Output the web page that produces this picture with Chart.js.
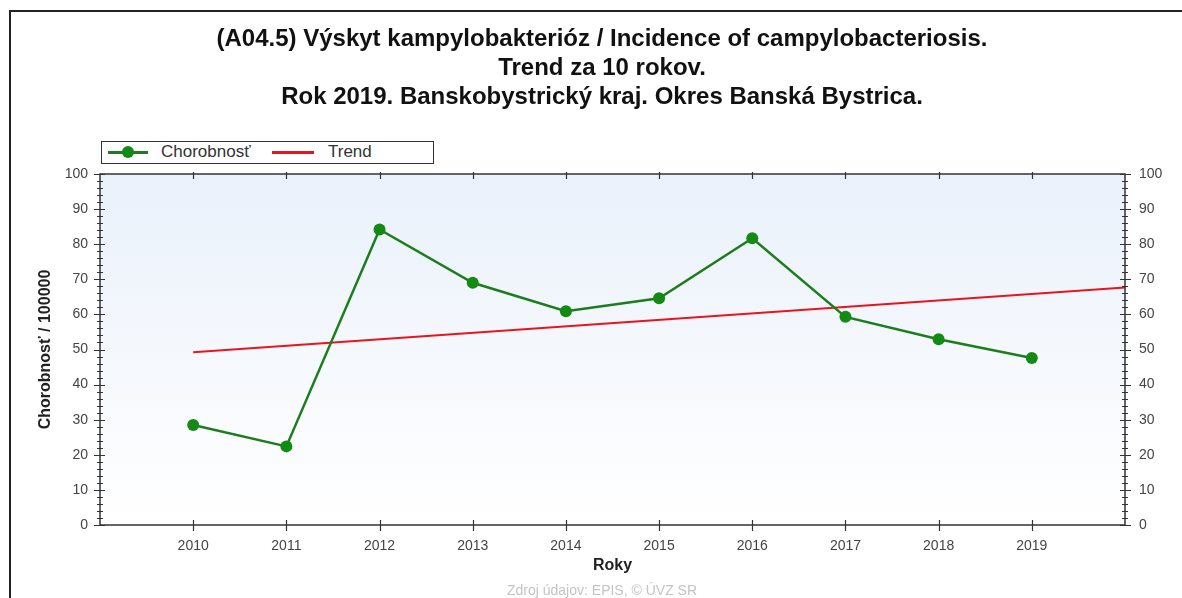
<!DOCTYPE html>
<html>
<head>
<meta charset="utf-8">
<script src="https://cdn.jsdelivr.net/npm/chart.js@4"></script>
<style>
  html, body { margin: 0; padding: 0; background: #fff; overflow: hidden; }
  #wrap { position: relative; width: 1182px; height: 598px; }
  #frame { position: absolute; left: 9px; top: 10px; width: 1200px; height: 620px;
           border-left: 2px solid #222; border-top: 2px solid #222; }
  #legend { position: absolute; left: 101px; top: 141px; width: 331px; height: 21px;
            border: 1px solid #333; background: #fff;
            font: 17px "Liberation Sans", Arial, sans-serif; color: #333; }
  #legend span { position: absolute; top: 0px; }
  #legend i { position: absolute; display: block; height: 3px; }
  #legend b { position: absolute; display: block; width: 12px; height: 12px; border-radius: 50%; background: #138a13; }
  #foot { position: absolute; left: 0; width: 1204px; top: 582px; text-align: center;
          font: 14px "Liberation Sans", Arial, sans-serif; color: #c4c4c4; }
  canvas { position: absolute; left: 0; top: 0; }
</style>
</head>
<body>
<div id="wrap">
  <div id="frame"></div>
  <canvas id="chart" width="1182" height="598"></canvas>
  <div id="legend">
    <i style="left:6px;top:9px;width:40px;background:#1d7d1d"></i>
    <b style="left:20px;top:4px"></b>
    <span style="left:59px">Chorobnosť</span>
    <i style="left:170px;top:9px;width:42px;background:#e8141e"></i>
    <span style="left:226px">Trend</span>
  </div>
  <div id="foot">Zdroj údajov: EPIS, © ÚVZ SR</div>
</div>
<script>
// Roky a hodnoty chorobnosti odčítané z grafu
const years = [2010, 2011, 2012, 2013, 2014, 2015, 2016, 2017, 2018, 2019];
const incidence = [28.5, 22.4, 84.2, 69.0, 60.9, 64.6, 81.7, 59.3, 52.9, 47.6];
// Trendová čiara – začiatok a koniec
const trendYears = [2010, 2020];
const trendValues = [49.2, 67.7];
const yTicks = [0, 10, 20, 30, 40, 50, 60, 70, 80, 90, 100];

const fontFamily = '"Liberation Sans", Arial, sans-serif';

// pozadie grafu + rámik a značky osí
const plotFrame = {
    id: 'plotFrame',
    beforeDatasetsDraw(chart) {
        const { ctx, chartArea: a } = chart;
        ctx.save();
        const g = ctx.createLinearGradient(0, a.top, 0, a.bottom);
        g.addColorStop(0, '#eaf1fb');
        g.addColorStop(1, '#ffffff');
        ctx.fillStyle = g;
        ctx.fillRect(a.left, a.top, a.right - a.left, a.bottom - a.top);
        ctx.restore();
    },
    afterDatasetsDraw(chart) {
        const { ctx, chartArea: a, scales } = chart;
        const x = scales.x, y = scales.y;
        ctx.save();
        ctx.strokeStyle = '#333';
        ctx.lineWidth = 1.5;
        ctx.strokeRect(a.left, a.top, a.right - a.left, a.bottom - a.top);
        ctx.lineWidth = 1.2;
        ctx.beginPath();
        // y značky – hlavné po 10, vedľajšie po 2
        for (let v = 0; v <= 100; v += 2) {
            const py = Math.round(y.getPixelForValue(v)) + 0.5;
            const major = v % 10 === 0;
            const out = major ? 6 : 3, inn = major ? 5 : 3;
            ctx.moveTo(a.left - out, py); ctx.lineTo(a.left + inn, py);
            ctx.moveTo(a.right - inn, py); ctx.lineTo(a.right + out, py);
        }
        // x značky
        years.forEach(yr => {
            const px = Math.round(x.getPixelForValue(yr)) + 0.5;
            ctx.moveTo(px, a.bottom - 5); ctx.lineTo(px, a.bottom + 6);
            ctx.moveTo(px, a.top - 2); ctx.lineTo(px, a.top + 5);
        });
        ctx.stroke();
        ctx.restore();
    }
};

new Chart(document.getElementById('chart'), {
    type: 'line',
    plugins: [plotFrame],
    data: {
        datasets: [
            {
                label: 'Chorobnosť',
                data: years.map((yr, i) => ({ x: yr, y: incidence[i] })),
                borderColor: '#1d7d1d',
                backgroundColor: '#138a13',
                borderWidth: 2.5,
                pointRadius: 6,
                pointBorderWidth: 0,
                pointBackgroundColor: '#138a13',
                tension: 0
            },
            {
                label: 'Trend',
                data: trendYears.map((yr, i) => ({ x: yr, y: trendValues[i] })),
                borderColor: '#e8141e',
                borderWidth: 2,
                pointRadius: 0,
                tension: 0
            }
        ]
    },
    options: {
        responsive: false,
        animation: false,
        layout: { padding: { left: 22, right: 0, top: 0, bottom: 0 } },
        plugins: {
            legend: { display: false },
            tooltip: { enabled: false },
            title: {
                display: true,
                text: [
                    '(A04.5) Výskyt kampylobakterióz / Incidence of campylobacteriosis.',
                    'Trend za 10 rokov.',
                    'Rok 2019. Banskobystrický kraj. Okres Banská Bystrica.'
                ],
                color: '#111',
                font: { family: fontFamily, size: 24, weight: 'bold', lineHeight: 29 / 24 },
                padding: { top: 25, bottom: 62 }
            }
        },
        scales: {
            x: {
                type: 'linear',
                min: 2009,
                max: 2020,
                afterBuildTicks: s => { s.ticks = years.map(v => ({ value: v })); },
                afterFit: s => { s.height = 73; },
                grid: { display: false, drawTicks: false },
                border: { display: false },
                ticks: {
                    color: '#444',
                    font: { family: fontFamily, size: 14 },
                    padding: 13,
                    autoSkip: false,
                    maxRotation: 0,
                    callback: v => String(v)
                },
                title: {
                    display: true,
                    text: 'Roky',
                    color: '#222',
                    font: { family: fontFamily, size: 16, weight: 'bold' },
                    padding: { top: 0, bottom: 22.4 }
                }
            },
            y: {
                position: 'left',
                min: 0,
                max: 100,
                afterBuildTicks: s => { s.ticks = yTicks.map(v => ({ value: v })); },
                afterFit: s => { s.width = 78; },
                grid: { display: false, drawTicks: false },
                border: { display: false },
                ticks: {
                    color: '#444',
                    font: { family: fontFamily, size: 14 },
                    padding: 12
                },
                title: {
                    display: true,
                    text: 'Chorobnosť / 100000',
                    color: '#222',
                    font: { family: fontFamily, size: 16, weight: 'bold' },
                    padding: { top: 14.4, bottom: 0 }
                }
            },
            y2: {
                position: 'right',
                min: 0,
                max: 100,
                afterBuildTicks: s => { s.ticks = yTicks.map(v => ({ value: v })); },
                afterFit: s => { s.width = 57; },
                grid: { display: false, drawTicks: false },
                border: { display: false },
                ticks: {
                    color: '#444',
                    font: { family: fontFamily, size: 14 },
                    padding: 14
                }
            }
        }
    }
});
</script>
</body>
</html>
